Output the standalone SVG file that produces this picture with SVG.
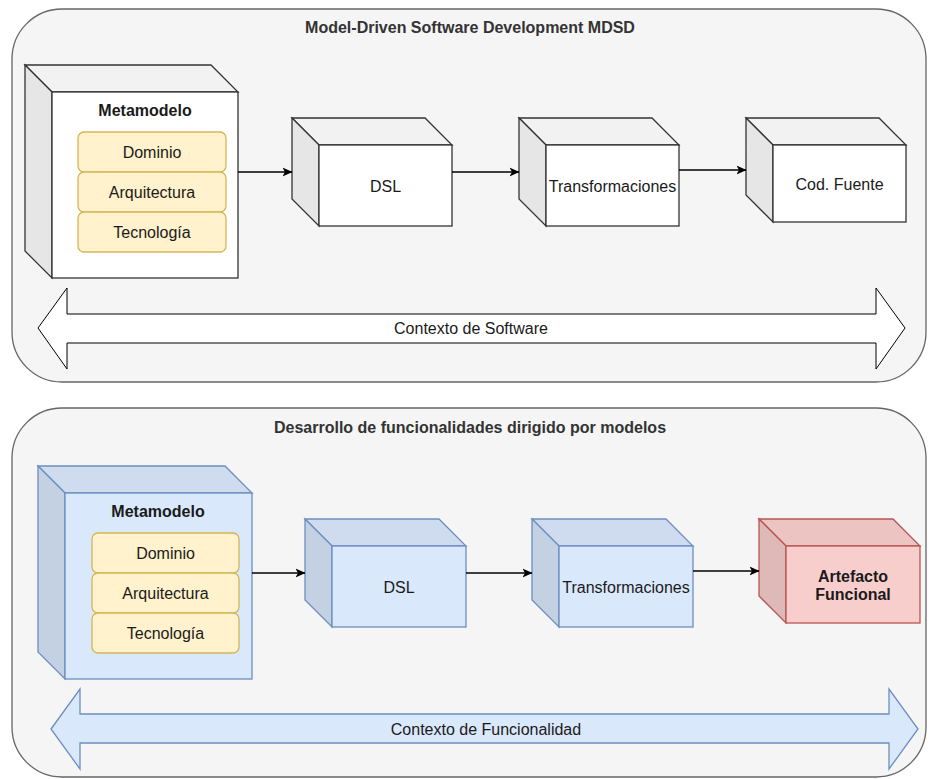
<svg xmlns="http://www.w3.org/2000/svg" width="929" height="779" viewBox="0 0 929 779">
<defs>
<marker id="arr" viewBox="0 0 10 10" refX="9.5" refY="5" markerWidth="10" markerHeight="10" markerUnits="userSpaceOnUse" orient="auto">
<path d="M0,0.5 L10,5 L0,9.5 L2.5,5 Z" fill="#000"/>
</marker>
</defs>
<style>
text{font-family:"Liberation Sans",Arial,Helvetica,sans-serif;font-size:16px;fill:#1a1a1a;text-anchor:middle;dominant-baseline:central}
.title{font-weight:bold;fill:#333333}
.b{font-weight:bold}
.cont{fill:#f5f5f5;stroke:#666666;stroke-width:1.3}
.edge{fill:none;stroke:#000;stroke-width:1.3}
.wf{fill:#ffffff;stroke:#333333;stroke-width:1.3}
.wt{fill:#f2f2f2;stroke:#333333;stroke-width:1.3}
.ws{fill:#e6e6e6;stroke:#333333;stroke-width:1.3}
.bf{fill:#dae8fc;stroke:#6c8ebf;stroke-width:1.3}
.bt{fill:#cfdcef;stroke:#6c8ebf;stroke-width:1.3}
.bs{fill:#c4d1e3;stroke:#6c8ebf;stroke-width:1.3}
.rf{fill:#f8cecc;stroke:#b85450;stroke-width:1.3}
.rt{fill:#ecc4c2;stroke:#b85450;stroke-width:1.3}
.rs{fill:#dfb9b7;stroke:#b85450;stroke-width:1.3}
.y{fill:#fff2cc;stroke:#d6b656;stroke-width:1.3}
.dw{fill:#ffffff;stroke:#000;stroke-width:1}
.db{fill:#dae8fc;stroke:#6c8ebf;stroke-width:1.3}
</style>

<g id="container-mdsd">
<rect class="cont" x="12" y="9" width="914" height="373" rx="50" ry="50"/>
<text class="title" x="470" y="27">Model-Driven Software Development MDSD</text>
</g>
<g id="container-func">
<rect class="cont" x="12" y="408" width="914" height="369" rx="50" ry="50"/>
<text class="title" x="470" y="427">Desarrollo de funcionalidades dirigido por modelos</text>
</g>

<g id="meta1">
<path class="wt" d="M25,65 L211,65 L238,92 L52,92 Z"/>
<path class="ws" d="M25,65 L52,92 L52,278 L25,251 Z"/>
<rect class="wf" x="52" y="92" width="186" height="186"/>
<text class="b" x="145" y="110">Metamodelo</text>
<rect class="y" x="78" y="132" width="148" height="40" rx="6"/>
<text x="152" y="152">Dominio</text>
<rect class="y" x="78" y="172" width="148" height="40" rx="6"/>
<text x="152" y="192">Arquitectura</text>
<rect class="y" x="78" y="212" width="148" height="40" rx="6"/>
<text x="152" y="232">Tecnología</text>
</g>

<g id="dsl1">
<path class="wt" d="M292,118 L425,118 L452,145 L319,145 Z"/>
<path class="ws" d="M292,118 L319,145 L319,226 L292,199 Z"/>
<rect class="wf" x="319" y="145" width="133" height="81"/>
<text x="385.5" y="186">DSL</text>
</g>

<g id="trans1">
<path class="wt" d="M519,118 L652,118 L679,145 L546,145 Z"/>
<path class="ws" d="M519,118 L546,145 L546,226 L519,199 Z"/>
<rect class="wf" x="546" y="145" width="133" height="81"/>
<text x="612.5" y="186">Transformaciones</text>
</g>

<g id="cod1">
<path class="wt" d="M746,118 L879,118 L906,145 L773,145 Z"/>
<path class="ws" d="M746,118 L773,145 L773,222 L746,195 Z"/>
<rect class="wf" x="773" y="145" width="133" height="77"/>
<text x="839.5" y="184">Cod. Fuente</text>
</g>

<g id="ctx1">
<path class="dw" d="M38,328 L67,288 L67,314 L876,314 L876,288 L905,328 L876,369 L876,343 L67,343 L67,369 Z"/>
<text x="471" y="328.5">Contexto de Software</text>
</g>

<g id="meta2">
<path class="bt" d="M38,466 L225,466 L252,493 L65,493 Z"/>
<path class="bs" d="M38,466 L65,493 L65,679 L38,652 Z"/>
<rect class="bf" x="65" y="493" width="187" height="186"/>
<text class="b" x="158" y="511">Metamodelo</text>
<rect class="y" x="92" y="533" width="147" height="40" rx="6"/>
<text x="165.5" y="553">Dominio</text>
<rect class="y" x="92" y="573" width="147" height="40" rx="6"/>
<text x="165.5" y="593">Arquitectura</text>
<rect class="y" x="92" y="613" width="147" height="40" rx="6"/>
<text x="165.5" y="633">Tecnología</text>
</g>

<g id="dsl2">
<path class="bt" d="M305,519 L439,519 L466,546 L332,546 Z"/>
<path class="bs" d="M305,519 L332,546 L332,627 L305,600 Z"/>
<rect class="bf" x="332" y="546" width="134" height="81"/>
<text x="399" y="587">DSL</text>
</g>

<g id="trans2">
<path class="bt" d="M532,519 L666,519 L693,546 L559,546 Z"/>
<path class="bs" d="M532,519 L559,546 L559,627 L532,600 Z"/>
<rect class="bf" x="559" y="546" width="134" height="81"/>
<text x="626" y="587">Transformaciones</text>
</g>

<g id="artefacto">
<path class="rt" d="M759,519 L893,519 L920,546 L786,546 Z"/>
<path class="rs" d="M759,519 L786,546 L786,623 L759,596 Z"/>
<rect class="rf" x="786" y="546" width="134" height="77"/>
<text class="b" x="853" y="576">Artefacto</text>
<text class="b" x="853" y="594">Funcional</text>
</g>

<g id="ctx2">
<path class="db" d="M51,729 L80,689 L80,714 L889,714 L889,689 L918,729 L889,769 L889,743 L80,743 L80,769 Z"/>
<text x="486" y="729.5">Contexto de Funcionalidad</text>
</g>

<g id="connectors">
<path class="edge" marker-end="url(#arr)" d="M238,172 L292,172"/>
<path class="edge" marker-end="url(#arr)" d="M452,172 L519,172"/>
<path class="edge" marker-end="url(#arr)" d="M679,170 L746,170"/>
<path class="edge" marker-end="url(#arr)" d="M252,573 L305,573"/>
<path class="edge" marker-end="url(#arr)" d="M466,573 L532,573"/>
<path class="edge" marker-end="url(#arr)" d="M693,571 L759,571"/>
</g>
</svg>
